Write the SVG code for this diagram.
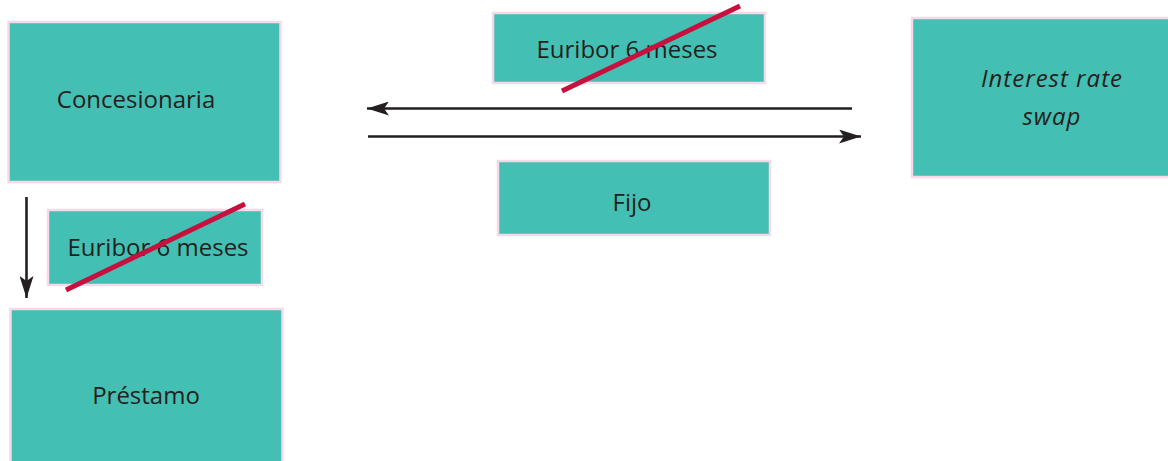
<svg xmlns="http://www.w3.org/2000/svg" width="1168" height="461" viewBox="0 0 1168 461">
  <style>
    .box { fill: #43bfb3; stroke: #f9d8e7; stroke-width: 2.5; }
    .lbl { font-family: "Open Sans", "Liberation Sans", sans-serif; font-size: 24px; fill: #231f20; text-anchor: middle; }
    .it { font-style: italic; letter-spacing: 1px; }
    .flow { stroke: #231f20; stroke-width: 2.6; fill: none; }
    .strike { stroke: #c8103e; stroke-width: 5; stroke-linecap: butt; }
  </style>
  <defs>
    <marker id="head" viewBox="0 0 22 14" refX="22" refY="7" markerWidth="22" markerHeight="14" markerUnits="userSpaceOnUse" orient="auto">
      <path d="M0,0 L22,7 L0,14 L5,7 Z" fill="#231f20"/>
    </marker>
  </defs>

  <rect width="1168" height="461" fill="#ffffff"/>

  <g id="connectors">
    <line class="flow" x1="852" y1="108.5" x2="367" y2="108.5" marker-end="url(#head)"/>
    <line class="flow" x1="368" y1="136.5" x2="861" y2="136.5" marker-end="url(#head)"/>
    <line class="flow" x1="26.5" y1="197" x2="26.5" y2="298" marker-end="url(#head)"/>
  </g>

  <g id="concesionaria">
    <rect class="box" x="8.5" y="22" width="272" height="160"/>
    <text class="lbl" x="136" y="108">Concesionaria</text>
  </g>

  <g id="euribor-swap">
    <rect class="box" x="493" y="13" width="272" height="70"/>
    <text class="lbl" x="627" y="58">Euribor 6 meses</text>
    <line class="strike" x1="562" y1="91" x2="740" y2="6"/>
  </g>

  <g id="fijo">
    <rect class="box" x="498" y="161" width="272" height="74"/>
    <text class="lbl" x="632" y="211">Fijo</text>
  </g>

  <g id="swap">
    <rect class="box" x="912" y="18" width="280" height="159"/>
    <text class="lbl it" x="1052" y="87">Interest rate</text>
    <text class="lbl it" x="1052" y="125">swap</text>
  </g>

  <g id="euribor-loan">
    <rect class="box" x="48" y="210" width="214" height="75"/>
    <text class="lbl" x="158" y="256">Euribor 6 meses</text>
    <line class="strike" x1="66" y1="290" x2="245" y2="204"/>
  </g>

  <g id="prestamo">
    <rect class="box" x="10.5" y="309" width="272" height="160"/>
    <text class="lbl" x="146" y="404">Préstamo</text>
  </g>
</svg>
